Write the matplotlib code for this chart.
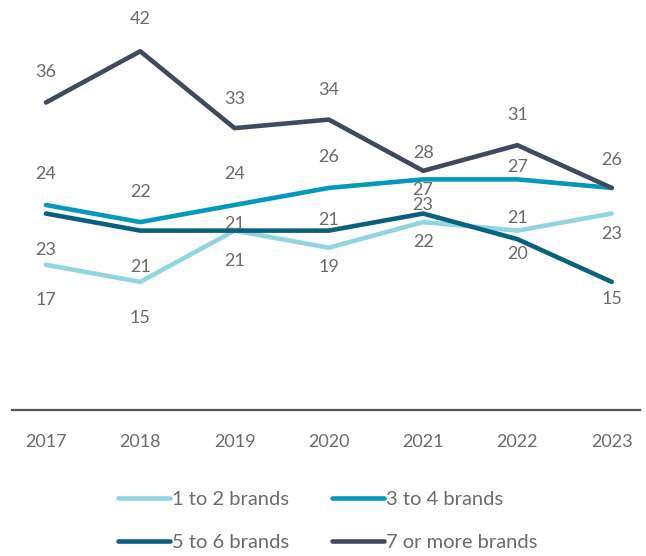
import matplotlib
matplotlib.use("Agg")
import matplotlib.pyplot as plt
from matplotlib.lines import Line2D

plt.rcParams['font.family'] = ['Lato', 'DejaVu Sans']

years = [2017, 2018, 2019, 2020, 2021, 2022, 2023]
series_names = ["1 to 2 brands", "3 to 4 brands", "5 to 6 brands", "7 or more brands"]
brands_1_2 = [17, 15, 21, 19, 22, 21, 23]
brands_3_4 = [24, 22, 24, 26, 27, 27, 26]
brands_5_6 = [23, 21, 21, 21, 23, 20, 15]
brands_7_plus = [36, 42, 33, 34, 28, 31, 26]

colors = ['#92d5e2', '#0499bb', '#08627f', '#3f4a5e']
text_color = '#6b6b6b'

# label offsets in points (positive = below the line), None = no label
label_offsets = [
    [25, 26, -5, 14, 14, -9, 15],
    [-22, -22, -22, -22, 8, -9, None],
    [26, 26, 22, -8, -6, 11, 12],
    [-22, -23, -21, -21, -13, -22, -20],
]

fig = plt.figure(figsize=(6.46, 5.56), dpi=100)
ax = fig.add_axes([12 / 646, 1 - 410 / 556, 628 / 646, 410 / 556])

all_series = [brands_1_2, brands_3_4, brands_5_6, brands_7_plus]
handles = []
for name, vals, col, offs in zip(series_names, all_series, colors, label_offsets):
    ax.plot(years, vals, color=col, linewidth=3.3, solid_capstyle='round',
            solid_joinstyle='round')
    for x, v, o in zip(years, vals, offs):
        if o is None:
            continue
        ax.annotate(str(v), (x, v), xytext=(0, -o), textcoords='offset points',
                    ha='center', va='center', fontsize=13, color=text_color)
    handles.append(Line2D([0], [0], color=col, linewidth=3.3, solid_capstyle='round'))

ax.set_xlim(2016.64, 2023.30)
ax.set_ylim(0, 48)
ax.set_yticks([])
ax.set_xticks(years)
ax.set_xticklabels([str(y) for y in years], fontsize=13, color=text_color)
ax.tick_params(axis='x', length=0, pad=17)
for s in ['top', 'right', 'left']:
    ax.spines[s].set_visible(False)
ax.spines['bottom'].set_color('#555555')
ax.spines['bottom'].set_linewidth(1.6)

order = [0, 2, 1, 3]
fig.legend([handles[i] for i in order], [series_names[i] for i in order],
           ncol=2, loc='upper left', bbox_to_anchor=(108 / 646, 1 - 481 / 556),
           frameon=False, fontsize=14.5, handlelength=2.6, handletextpad=0.1,
           columnspacing=2.1, labelspacing=1.3, borderpad=0, labelcolor=text_color)

fig.savefig('out.png', dpi=100)
